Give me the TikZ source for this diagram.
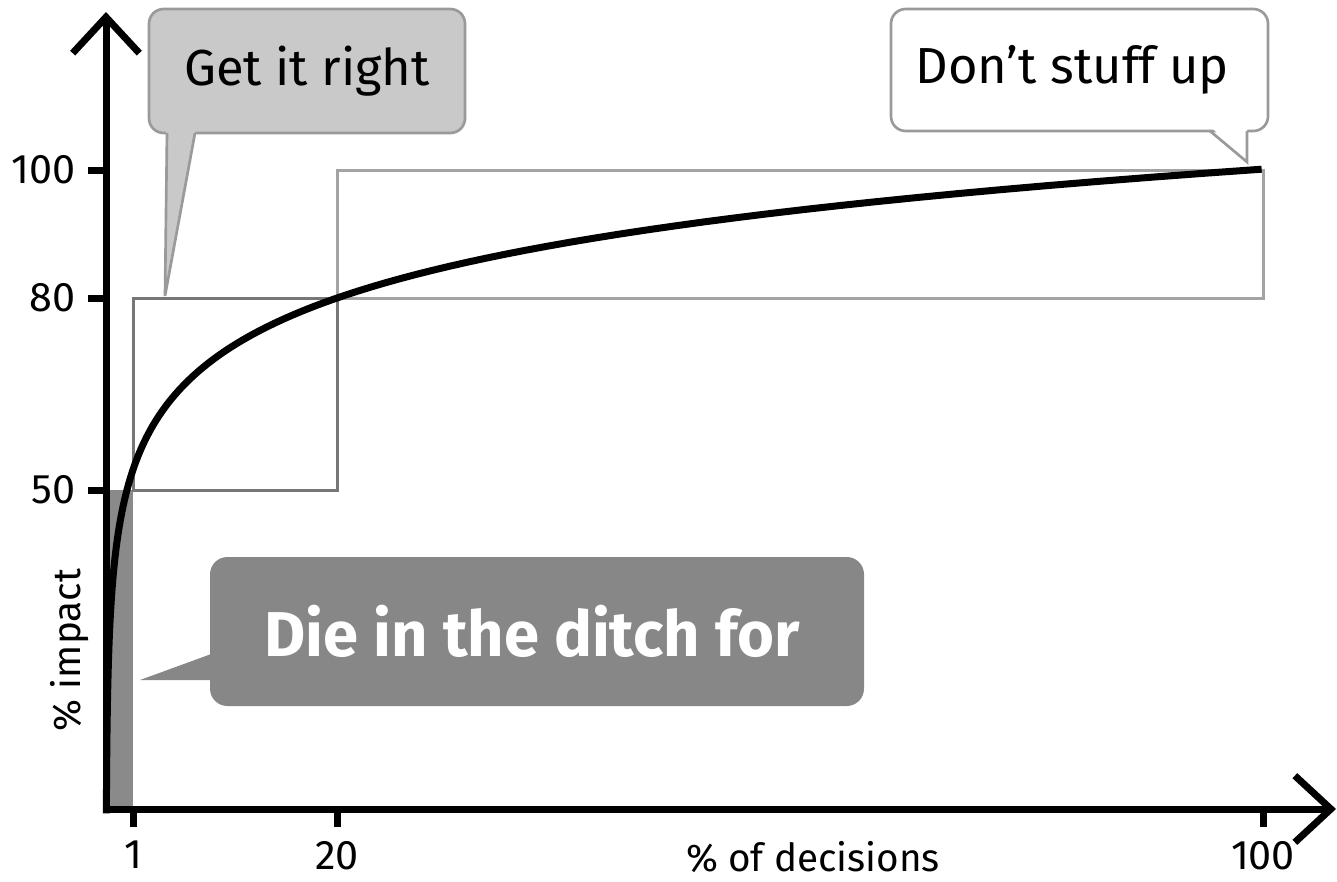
\documentclass[tikz,border=0pt]{standalone}
\usepackage{fontspec}
\setmainfont{Fira Sans}
\usetikzlibrary{arrows.meta,positioning}
\definecolor{boxgray}{HTML}{C9C9C9}
\definecolor{bubbleedge}{HTML}{9A9A9A}
\definecolor{ditchgray}{HTML}{878787}
\definecolor{bargray}{HTML}{8A8A8A}
\definecolor{innerbox}{HTML}{777777}
\definecolor{outerbox}{HTML}{A3A3A3}
\begin{document}
\begin{tikzpicture}[x=0.75pt,y=-0.75pt,
    axis/.style={line width=5.25pt,line join=miter,
      {Straight Barb[length=27pt,width=50pt]}-{Straight Barb[length=27pt,width=50pt]}},
    tickmark/.style={line width=5.25pt},
    ticklabel/.style={inner sep=0pt,font=\fontsize{31}{36}\selectfont},
    axislabel/.style={inner sep=0pt,font=\fontsize{29}{34}\selectfont},
    bubble/.style={rounded corners=11pt,inner sep=0pt,line width=2pt,
      font=\fontsize{38}{46}\selectfont},
    frame/.style={line width=2.25pt}]
  \useasboundingbox (0,0) rectangle (1337,881);
  \coordinate (o) at (106,809);
  \coordinate (ytop) at (106,12);
  \coordinate (xend) at (1336,809);

  \fill[bargray] (110,490) rectangle (133,806);
  \draw[frame,innerbox] (133,298) rectangle (337,490);
  \draw[frame,outerbox] (337,170) rectangle (1263,298);
  \draw[line width=5.25pt] plot[domain=-1:7.0536,samples=160,variable=\t]
    ({106+exp(\t)},{733.4-80*\t});

  \draw[axis] (ytop) -- (o) -- (xend);
  \foreach \y/\v in {170/100,298/80,490/50} {
    \draw[tickmark] (88,\y) -- (106,\y);
    \node[ticklabel,anchor=east] (y\v) at (76,\y) {\v};
  }
  \foreach \x/\v in {133/1,337/20,1263/100} {
    \draw[tickmark] (\x,809) -- (\x,827);
    \node[ticklabel,anchor=north] (x\v) at (\x,841) {\v};
  }
  \node[axislabel,anchor=north] (xlab) at (813,841) {\% of decisions};
  \node[axislabel,rotate=90] (ylab) at (70,650) {\% impact};

  \node[bubble,fill=boxgray,draw=bubbleedge,minimum width=237pt,
    minimum height=93pt] (gir) at (307,71) {Get it right};
  \coordinate (girtip) at (165,296);
  \fill[boxgray] (166,128) -- (girtip) -- (196,128) -- cycle;
  \draw[bubbleedge,line width=2pt] (167,133) -- (girtip) -- (195,133);

  \node[bubble,fill=white,draw=bubbleedge,minimum width=282.75pt,
    minimum height=91.5pt] (dsu) at (1079.5,70) {\hspace*{-11pt}Don’t stuff up};
  \coordinate (dsutip) at (1247,162);
  \fill[white] (1210,126) -- (dsutip) -- (1247,126) -- cycle;
  \draw[bubbleedge,line width=2pt] (1210,131) -- (dsutip) -- (1247,131);

  \node[bubble,rounded corners=13pt,fill=ditchgray,text=white,
    font=\fontsize{47.5}{56}\selectfont\bfseries,minimum width=490.5pt,
    minimum height=111.75pt] (dit) at (537,631.5) {\hspace*{-7.5pt}Die in the ditch for};
  \coordinate (dittip) at (140,680);
  \fill[ditchgray] (214,653) -- (dittip) -- (214,680) -- cycle;
\end{tikzpicture}
\end{document}
